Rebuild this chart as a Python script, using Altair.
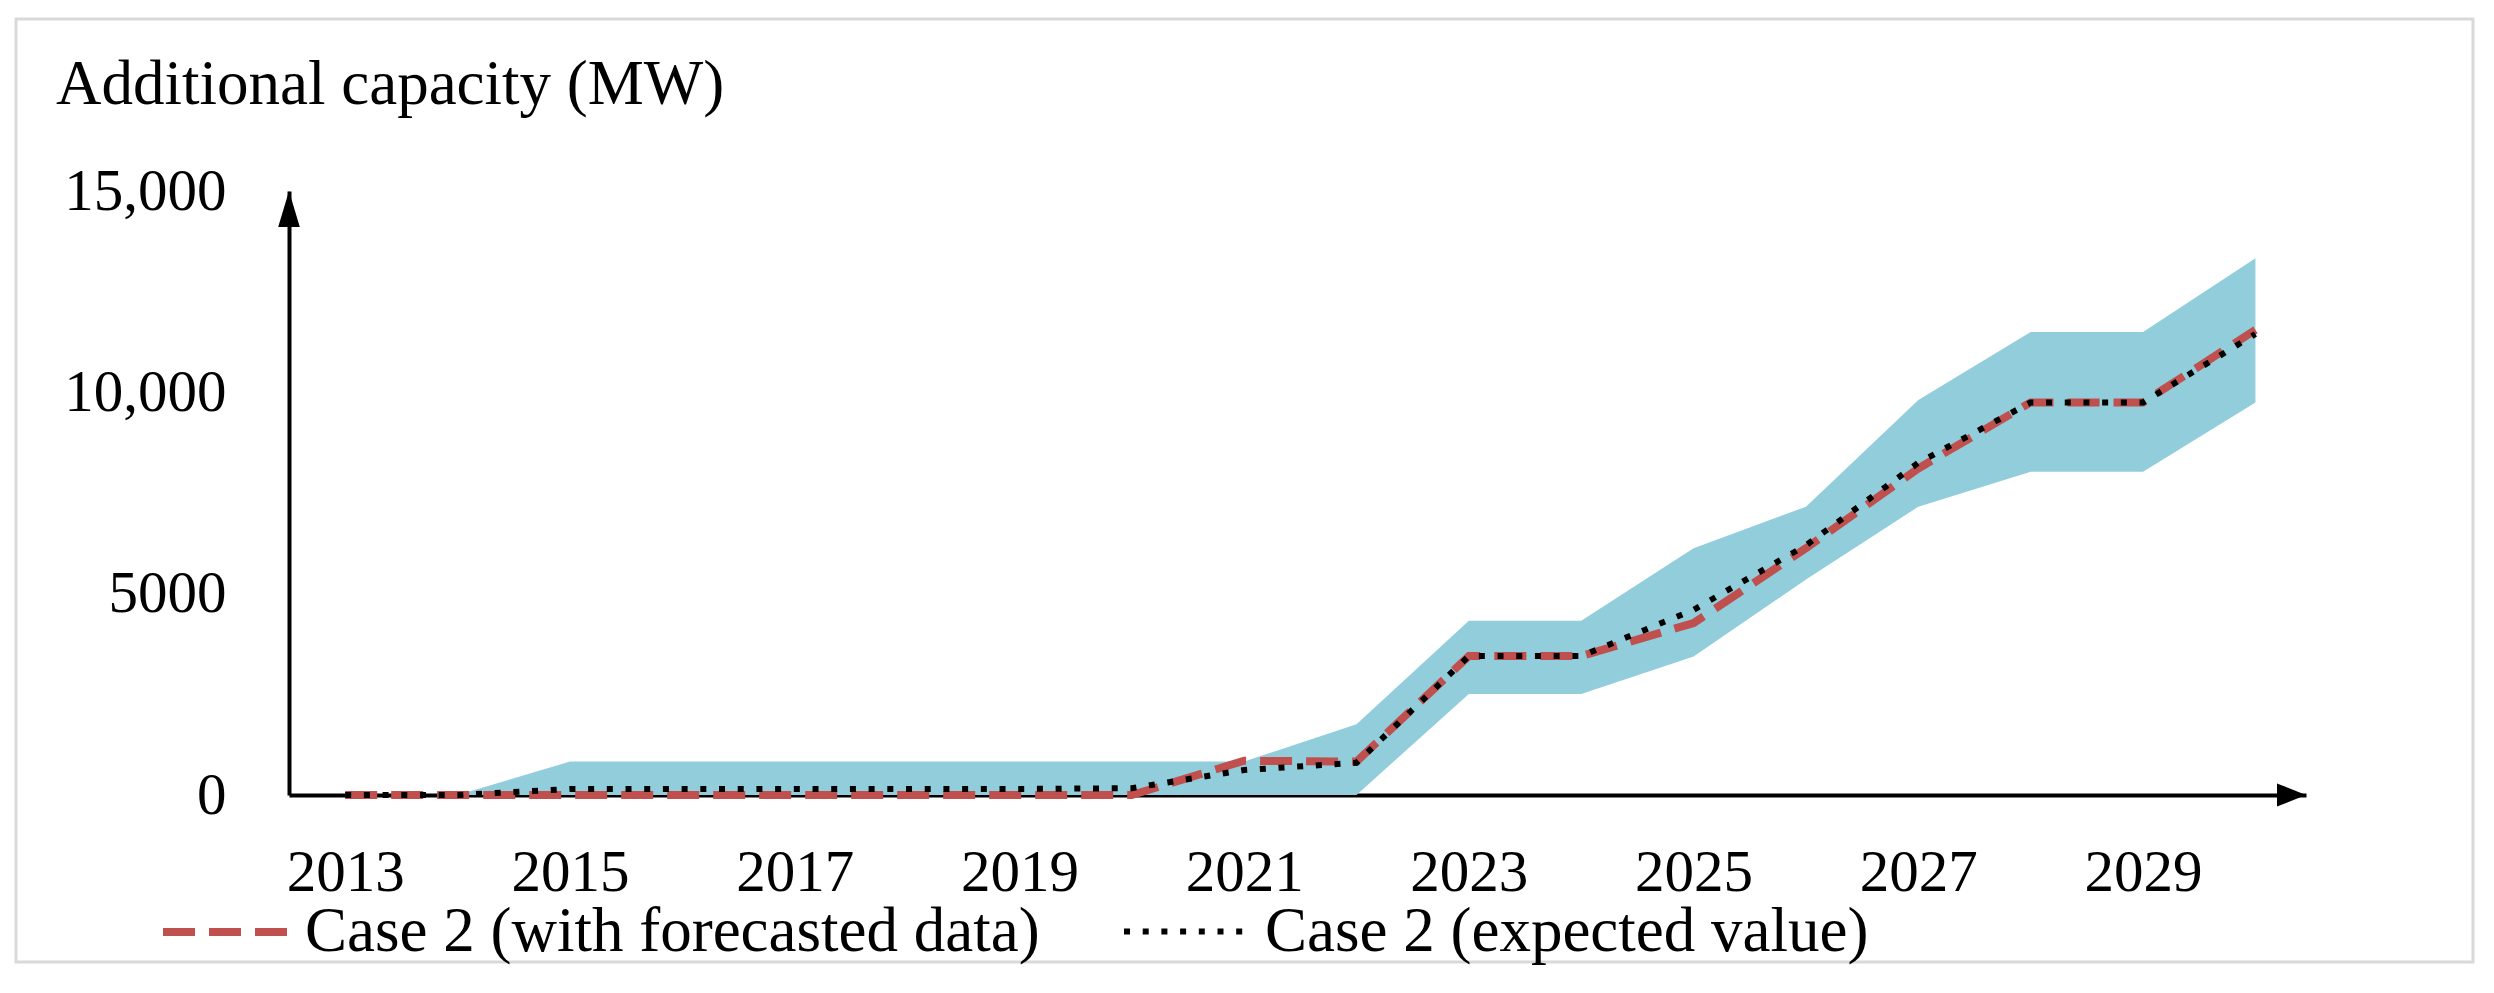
import altair as alt
import pandas as pd

# ---------------- data ----------------
years = list(range(2013, 2031))
forecast = [0, 0, 0, 0, 0, 0, 0, 0, 850, 830, 3450, 3450, 4270, 6130, 8110, 9750, 9750, 11550]
expected = [0, 0, 150, 150, 150, 150, 150, 170, 620, 800, 3450, 3450, 4600, 6200, 8250, 9750, 9750, 11450]
band_upper = [0, 0, 830, 830, 830, 830, 830, 830, 830, 1760, 4330, 4330, 6130, 7160, 9810, 11500, 11500, 13330]
band_lower = [0, 0, 0, 0, 0, 0, 0, 0, 0, 0, 2510, 2510, 3440, 5350, 7160, 8030, 8030, 9750]

series_names = ["Case 2 (with forecasted data)", "Case 2 (expected value)"]
y_title = ["Additional capacity (MW)"]
x_tick_years = [2013, 2015, 2017, 2019, 2021, 2023, 2025, 2027, 2029]
y_ticks = [0, 5000, 10000, 15000]
x_domain = [2012.5, 2030.45]
y_domain = [0, 15000]

FONT = "Liberation Serif"
RED = "#C0504D"
BAND = "#92CDDC"

band_df = pd.DataFrame({"year": years, "lower": band_lower, "upper": band_upper})
lines_df = pd.DataFrame({
    "year": years * 2,
    "value": forecast + expected,
    "series": [series_names[0]] * len(years) + [series_names[1]] * len(years),
})

x_scale = alt.Scale(domain=x_domain, nice=False, zero=False)
y_scale = alt.Scale(domain=y_domain, nice=False)

x_axis = alt.Axis(values=x_tick_years, format="d", title=None, grid=False, ticks=False, tickSize=0,
                  domain=True, domainColor="black", domainWidth=4, labelFont=FONT, labelFontSize=59,
                  labelColor="black", labelPadding=48, labelFlush=False, labelOverlap=False)
y_axis = alt.Axis(values=y_ticks, title=None, grid=False, ticks=False, tickSize=0,
                  labelExpr="datum.value >= 10000 ? format(datum.value, ',') : format(datum.value, 'd')",
                  domain=True, domainColor="black", domainWidth=4, labelFont=FONT, labelFontSize=59,
                  labelColor="black", labelPadding=63, labelFlush=False, labelOverlap=False)

legend = alt.Legend(title=None, orient="none", legendX=-130, legendY=672, direction="horizontal",
                    symbolType="stroke", symbolSize=16900, labelFont=FONT, labelFontSize=63,
                    labelColor="black", labelOffset=8, columnPadding=72, padding=0, labelLimit=0)

color_enc = alt.Color("series:N", scale=alt.Scale(domain=series_names, range=[RED, "black"]), legend=legend)
dash_enc = alt.StrokeDash("series:N", scale=alt.Scale(domain=series_names, range=[[32, 14], [6, 12.7]]), legend=legend)
width_enc = alt.StrokeWidth("series:N", scale=alt.Scale(domain=series_names, range=[8, 6]), legend=legend)

band = alt.Chart(band_df).mark_area(color=BAND, opacity=1).encode(
    x=alt.X("year:Q", scale=x_scale, axis=x_axis),
    y=alt.Y("lower:Q", scale=y_scale, axis=y_axis),
    y2="upper:Q",
)

def line_layer(name):
    return alt.Chart(lines_df).transform_filter(alt.datum.series == name).mark_line(strokeCap="butt").encode(
        x=alt.X("year:Q", scale=x_scale, axis=x_axis),
        y=alt.Y("value:Q", scale=y_scale, axis=y_axis),
        color=color_enc, strokeDash=dash_enc, strokeWidth=width_enc,
    )

red_line = line_layer(series_names[0])
black_line = line_layer(series_names[1])

arrow_up_df = pd.DataFrame({"ax": [x_domain[0]], "ay": [y_domain[1]]})
arrow_right_df = pd.DataFrame({"ax": [x_domain[1]], "ay": [y_domain[0]]})

arrow_up = alt.Chart(arrow_up_df).mark_point(
    shape="M0,0 L-0.3,1 L0.3,1 Z", size=5184, filled=True, color="black", opacity=1
).encode(x=alt.X("ax:Q", scale=x_scale, axis=x_axis), y=alt.Y("ay:Q", scale=y_scale, axis=y_axis))

arrow_right = alt.Chart(arrow_right_df).mark_point(
    shape="M0,0 L-1,-0.4 L-1,0.4 Z", size=3364, filled=True, color="black", opacity=1
).encode(x=alt.X("ax:Q", scale=x_scale, axis=x_axis), y=alt.Y("ay:Q", scale=y_scale, axis=y_axis))

title_text = alt.Chart(pd.DataFrame({"t": y_title})).mark_text(
    align="left", baseline="alphabetic", font=FONT, fontSize=63, color="black"
).encode(x=alt.value(-233), y=alt.value(-87), text="t:N")

frame = alt.Chart(pd.DataFrame({"f": [0]})).mark_rect(
    fillOpacity=0, stroke="#d9d9d9", strokeWidth=3
).encode(x=alt.value(-273), x2=alt.value(2184), y=alt.value(-172), y2=alt.value(771))

chart = alt.layer(band, red_line, black_line, arrow_up, arrow_right, title_text, frame).properties(
    width=2017, height=604,
    autosize=alt.AutoSizeParams(type="none"),
    padding={"left": 281, "top": 183, "right": 170, "bottom": 180},
    background="white",
).configure_view(stroke=None)

chart.save("out.html", embed_options={"renderer": "svg", "actions": False})
